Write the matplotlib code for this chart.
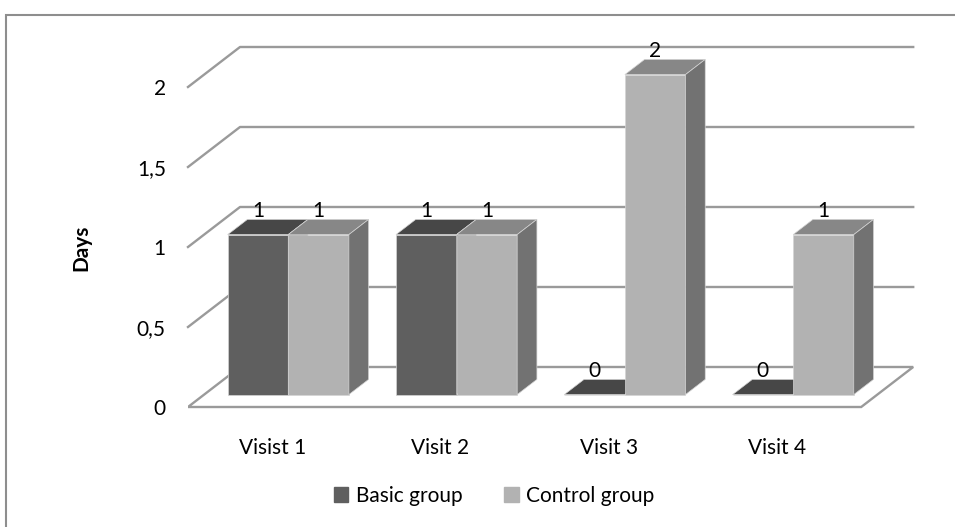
import matplotlib.pyplot as plt
from matplotlib.patches import Polygon, Patch, Rectangle

# chart data
categories = ['Visist 1', 'Visit 2', 'Visit 3', 'Visit 4']
basic_group = [1, 1, 0, 0]
control_group = [1, 1, 2, 1]
y_ticks = [0, 0.5, 1, 1.5, 2]
y_tick_labels = ['0', '0,5', '1', '1,5', '2']

plt.rcParams['font.family'] = ['Lato', 'DejaVu Sans']

# pseudo-3d settings (data units)
DX = 0.309      # horizontal shift of the full depth
DY = 0.25       # vertical shift of the full depth
BAR_W = 0.36
D0, D1 = 0.31, 0.69

GRID = '#9a9a9a'
BASIC = ('#5f5f5f', '#474747', '#555555')     # front, top, side
CONTROL = ('#b2b2b2', '#878787', '#727272')


def proj(x, y, d):
    return (x + d * DX, y + d * DY)


fig = plt.figure(figsize=(9.55, 5.27), dpi=100)
ax = fig.add_axes([188 / 955, 0, 1 - 188 / 955, 1])
ax.set_xlim(-0.5, -0.5 + 767 / 168.3)
ax.set_ylim(-0.75, 407 / 160)
for s in ax.spines.values():
    s.set_visible(False)
ax.spines['bottom'].set_position(('data', 0))

# outer frame
fig.patches.append(Rectangle((6, -10), 1000, 527 - 15 + 10, transform=None,
                             fill=False, edgecolor='#8e8e8e', lw=1.5))

# back wall gridlines + floor
x_lo, x_hi = -0.5, len(categories) - 0.5
for v in y_ticks[1:]:
    pts = [proj(x_lo, v, 0), proj(x_lo, v, 1), proj(x_hi, v, 1)]
    ax.plot(*zip(*pts), color=GRID, lw=1.7, zorder=1, clip_on=False)
floor = [proj(x_lo, 0, 0), proj(x_hi, 0, 0), proj(x_hi, 0, 1), proj(x_lo, 0, 1)]
ax.add_patch(Polygon(floor, closed=True, facecolor='white', edgecolor=GRID,
                     lw=1.7, zorder=1))


def draw_bar(x0, h, colors, z):
    front, top, side = colors
    x1 = x0 + BAR_W
    ax.bar(x0 + D0 * DX, h, BAR_W, bottom=D0 * DY, align='edge',
           color=front, edgecolor='#d4d4d4', lw=0.5, zorder=z)
    top_face = [proj(x0, h, D0), proj(x1, h, D0), proj(x1, h, D1), proj(x0, h, D1)]
    ax.add_patch(Polygon(top_face, closed=True, facecolor=top,
                         edgecolor='#d4d4d4', lw=0.5, zorder=z))
    if h > 0:
        side_face = [proj(x1, 0, D0), proj(x1, h, D0), proj(x1, h, D1), proj(x1, 0, D1)]
        ax.add_patch(Polygon(side_face, closed=True, facecolor=side,
                             edgecolor='#d4d4d4', lw=0.5, zorder=z))
    ax.text(x0 + BAR_W / 2 + D0 * DX, h + D1 * DY + 2 / 160, str(h),
            ha='center', va='baseline', fontsize=15, color='black', zorder=10)


for i in range(len(categories)):
    draw_bar(i - BAR_W, basic_group[i], BASIC, 3 + 2 * i)
    draw_bar(i, control_group[i], CONTROL, 4 + 2 * i)

ax.set_yticks(y_ticks, y_tick_labels)
ax.set_xticks(range(len(categories)), categories)
ax.tick_params(axis='y', length=0, pad=16, labelsize=15)
ax.tick_params(axis='x', length=0, pad=22, labelsize=15)

fig.text(81 / 955, 1 - 248 / 527, 'Days', rotation=90, ha='center',
         va='center', fontsize=15, fontweight='bold')

handles = [Patch(color=BASIC[0], label='Basic group'),
           Patch(color=CONTROL[0], label='Control group')]
fig.legend(handles=handles, loc='center', bbox_to_anchor=(494 / 955, 1 - 496 / 527),
           ncol=2, frameon=False, fontsize=15, handlelength=0.7, handleheight=0.7,
           handletextpad=0.35, columnspacing=2.0)

fig.savefig('out.png', dpi=100)
